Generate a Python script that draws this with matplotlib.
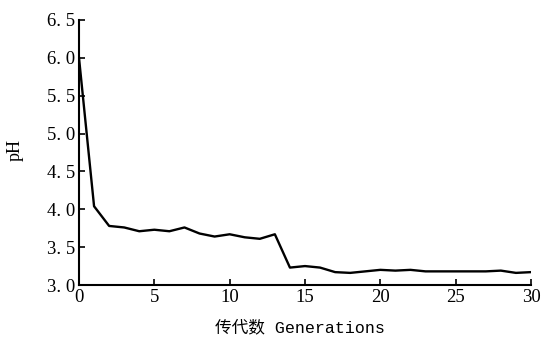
import matplotlib
matplotlib.use("Agg")
import matplotlib.pyplot as plt

generations = list(range(0, 31))
ph_values = [6.00, 4.04, 3.78, 3.76, 3.71, 3.73, 3.71, 3.76, 3.68, 3.64,
             3.67, 3.63, 3.61, 3.67, 3.23, 3.25, 3.23, 3.17, 3.16, 3.18,
             3.20, 3.19, 3.20, 3.18, 3.18, 3.18, 3.18, 3.18, 3.19, 3.16, 3.17]
x_ticks = [0, 5, 10, 15, 20, 25, 30]
y_ticks = [3.0, 3.5, 4.0, 4.5, 5.0, 5.5, 6.0, 6.5]
y_tick_labels = ["3. 0", "3. 5", "4. 0", "4. 5", "5. 0", "5. 5", "6. 0", "6. 5"]

fig = plt.figure(figsize=(5.41, 3.48), dpi=100)
ax = fig.add_axes([79/541, 1 - 285/348, (531-79)/541, (285-20)/348])

ax.plot(generations, ph_values, color="black", lw=1.7)
ax.set_xlim(0, 30)
ax.set_ylim(3.0, 6.5)
ax.set_xticks(x_ticks)
ax.set_xticklabels([str(t) for t in x_ticks], family="Liberation Serif", fontsize=13.5)
ax.set_yticks(y_ticks)
ax.set_yticklabels(y_tick_labels, family="Liberation Serif", fontsize=13.5)
ax.tick_params(direction="in", length=4, width=1.2, pad=3)
for s in ["top", "right"]:
    ax.spines[s].set_visible(False)
for s in ["left", "bottom"]:
    ax.spines[s].set_linewidth(1.5)

fig.text(15/541, 1 - 150/348, "pH", rotation=90, ha="center", va="center",
         family="Liberation Serif", fontsize=13)
fig.text(300/541, 1 - 327/348, "传代数 Generations", ha="center", va="center",
         family=["Liberation Mono", "Noto Sans CJK SC"], fontsize=12)

fig.savefig("out.png", dpi=100)
